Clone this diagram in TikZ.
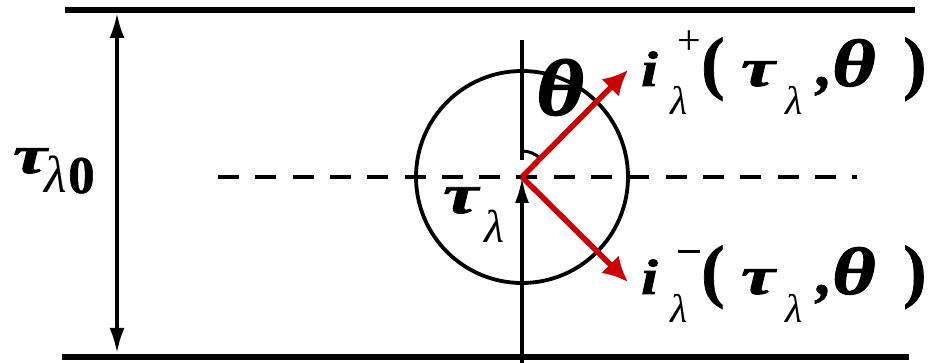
\documentclass[tikz,border=0pt]{standalone}
\usepackage{fontspec}
\usepackage{graphicx}
\setmainfont{Liberation Serif}[BoldItalicFeatures={FakeBold=1.5},BoldFeatures={FakeBold=1}]
\usetikzlibrary{arrows.meta}
\definecolor{arrred}{RGB}{204,0,0}
% glyph with left edge dx and baseline raised by r
\newcommand{\pl}[3]{\rlap{\hspace*{#1pt}\raisebox{#2pt}{#3}}}
\newcommand{\fs}[1]{\fontsize{#1}{#1}\selectfont}
\newcommand{\BI}{\bfseries\itshape}
\newcommand{\RI}{\mdseries\itshape}
\newcommand{\RU}{\mdseries\upshape}
\newcommand{\BU}{\bfseries\upshape}
\newcommand{\wide}[2]{\scalebox{#1}[1]{#2}}
\begin{document}
\begin{tikzpicture}[x=1pt,y=-1pt,
  thickline/.style={line width=6.5pt},
  midline/.style={line width=3.8pt},
  redarrow/.style={line width=5.5pt,arrred,-{Latex[length=25pt,width=25pt]}},
  lbl/.style={inner sep=0pt,anchor=base west}]
\useasboundingbox (0,0) rectangle (932,363);
\coordinate (TL) at (65,10);
\coordinate (TR) at (915,10);
\coordinate (BL) at (62,357);
\coordinate (BR) at (909,357);
\draw[thickline] (TL) -- (TR);
\draw[thickline] (BL) -- (BR);
\coordinate (dt) at (117,13);
\coordinate (db) at (117,353);
\draw[line width=3.4pt,{Latex[length=25pt,width=15pt]}-{Latex[length=25pt,width=15pt]}] (dt) -- (db);
\coordinate (O) at (522,177);
\draw[midline] (O) circle (106);
\coordinate (dl) at (218,177);
\coordinate (dr) at (857,177);
\draw[midline,dash pattern=on 21pt off 16.3pt] (dl) -- (dr);
\coordinate (vt) at (522,40);
\coordinate (vm) at (522,160);
\draw[midline] (vt) -- (vm);
\coordinate (vb) at (522,363);
\draw[midline,-{Latex[length=26pt,width=14pt]}] (vb) -- (O);
\draw[line width=3pt] (522,151) arc[start angle=-90,end angle=-45,radius=26];
\coordinate (up) at (628,70);
\coordinate (dn) at (628,282);
\draw[redarrow] (O) -- (up);
\draw[redarrow] (O) -- (dn);
\node[lbl] (theta) at (536,115) {\pl{0}{0}{\fs{80}\BI\wide{1.15}{θ}}\hspace*{46pt}};
\node[lbl] (taul) at (443,213) {\pl{0}{0}{\fs{56}\BI\wide{1.4}{τ}}\pl{41}{-30}{\fs{46}\RI λ}\hspace*{62pt}};
\node[lbl] (tau0) at (13,173) {\pl{0}{0}{\fs{54}\BI\wide{1.4}{τ}}\pl{31}{-20}{\fs{52}\RI λ}\pl{55}{-20}{\fs{53}\BU 0}\hspace*{86pt}};
\node[lbl] (iplus) at (641,86) {\pl{0}{0}{\fs{50}\BI\wide{1.2}{i}}\pl{36}{31}{\fs{42}\RU +}\pl{29}{-29}{\fs{40}\RI λ}\pl{60}{0}{\fs{70}\BU (}\pl{100}{0}{\fs{54}\BI\wide{1.4}{τ}}\pl{144}{-29}{\fs{40}\RI λ}\pl{173}{0}{\fs{62}\BU ,}\pl{191}{0}{\fs{67}\BI\wide{1.25}{θ}}\pl{262}{0}{\fs{70}\BU )}\hspace*{284pt}};
\node[lbl] (iminus) at (641,294) {\pl{0}{0}{\fs{50}\BI\wide{1.2}{i}}\pl{37}{41}{\rule{22pt}{2.5pt}}\pl{29}{-29}{\fs{40}\RI λ}\pl{60}{0}{\fs{70}\BU (}\pl{100}{0}{\fs{54}\BI\wide{1.4}{τ}}\pl{144}{-29}{\fs{40}\RI λ}\pl{173}{0}{\fs{62}\BU ,}\pl{191}{0}{\fs{67}\BI\wide{1.25}{θ}}\pl{262}{0}{\fs{70}\BU )}\hspace*{284pt}};
\end{tikzpicture}
\end{document}
